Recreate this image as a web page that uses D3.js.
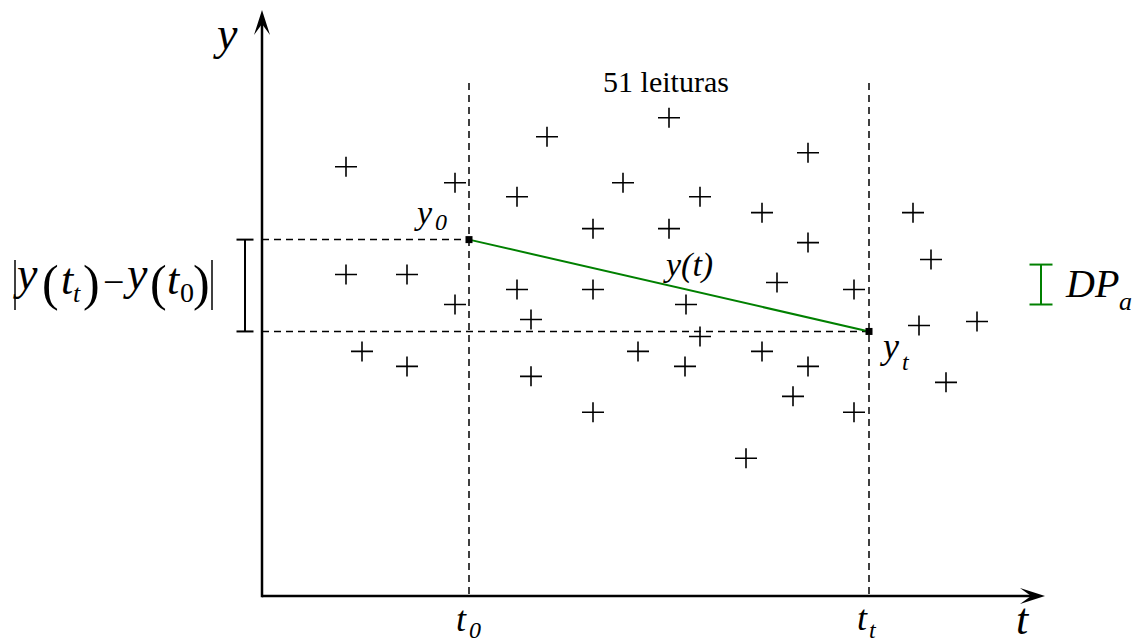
<!DOCTYPE html>
<html><head><meta charset="utf-8">
<script src="https://cdn.jsdelivr.net/npm/d3@7"></script>
<style>
body{margin:0;background:#fff}
svg text{font-family:"Liberation Serif","DejaVu Serif",serif}
</style></head><body>
<svg id="chart" width="1142" height="643"></svg>
<script>
// leituras (t, y) em unidades do grafico
var readingT = [84,193,285,407,546,255,361,438,331,407,500,546,651,669,84,145,193,255,331,424,515,592,269,438,657,715,100,145,269,376,423,500,546,684,531,331,592,484];
var readingY = [430,414,460,479,444,400,414,400,368,368,384,354,384,337,322,322,292,307,307,292,314,307,277,260,271,275,245,230,220,245,230,245,230,214,200,184,184,138];
var t0 = 207, tt = 607;
var y0 = 357, yt = 265;
var windowTop = 514;
var dpBar = [292, 332], dpT = 779;
var diffBarT = -17;
var windowLabel = "51 leituras";

var svg = d3.select("#chart");

var x = d3.scaleLinear().domain([0, 783]).range([262, 1045]),
    y = d3.scaleLinear().domain([0, 587]).range([596, 10]);

var dash = "7,5";

// eixos com setas
svg.append("line")
    .attr("x1", x(0)).attr("y1", y(0))
    .attr("x2", x(783) - 14).attr("y2", y(0))
    .attr("stroke", "#000").attr("stroke-width", 2.5);
svg.append("line")
    .attr("x1", x(0)).attr("y1", y(0) + 1.2)
    .attr("x2", x(0)).attr("y2", y(587) + 14)
    .attr("stroke", "#000").attr("stroke-width", 2.5);

var arrow = "M0,0L-25,-8L-14,0L-25,8Z";
svg.append("path").attr("d", arrow)
    .attr("transform", "translate(" + x(783) + "," + y(0) + ")");
svg.append("path").attr("d", arrow)
    .attr("transform", "translate(" + x(0) + "," + y(587) + ") rotate(-90)");

// janela t0..tt
[t0, tt].forEach(function(t) {
    svg.append("line")
        .attr("x1", x(t)).attr("x2", x(t))
        .attr("y1", y(windowTop)).attr("y2", y(0))
        .attr("stroke", "#000").attr("stroke-width", 1.5)
        .attr("stroke-dasharray", dash);
});
svg.append("line")
    .attr("x1", x(0)).attr("x2", x(t0))
    .attr("y1", y(y0)).attr("y2", y(y0))
    .attr("stroke", "#000").attr("stroke-width", 1.5)
    .attr("stroke-dasharray", dash);
svg.append("line")
    .attr("x1", x(0)).attr("x2", x(tt))
    .attr("y1", y(yt)).attr("y2", y(yt))
    .attr("stroke", "#000").attr("stroke-width", 1.5)
    .attr("stroke-dasharray", dash);

// leituras
svg.append("g").selectAll("path")
    .data(readingT.map(function(t, i) { return {t: t, v: readingY[i]}; }))
    .enter().append("path")
    .attr("d", "M-11,0H11M0,-10V10")
    .attr("transform", function(d) { return "translate(" + x(d.t) + "," + y(d.v) + ")"; })
    .attr("stroke", "#000").attr("stroke-width", 1.6);

// reta y(t)
svg.append("line")
    .attr("x1", x(t0)).attr("y1", y(y0))
    .attr("x2", x(tt)).attr("y2", y(yt))
    .attr("stroke", "#008000").attr("stroke-width", 2);
[[t0, y0], [tt, yt]].forEach(function(p) {
    svg.append("rect")
        .attr("x", x(p[0]) - 3.5).attr("y", y(p[1]) - 3.5)
        .attr("width", 7).attr("height", 7).attr("fill", "#000");
});

// barras
function ibar(tv, a, b, cap, col) {
    var g = svg.append("g").attr("stroke", col).attr("stroke-width", 2);
    g.append("line").attr("x1", x(tv)).attr("x2", x(tv)).attr("y1", y(a)).attr("y2", y(b));
    g.append("line").attr("x1", x(tv) - cap).attr("x2", x(tv) + cap).attr("y1", y(a)).attr("y2", y(a));
    g.append("line").attr("x1", x(tv) - cap).attr("x2", x(tv) + cap).attr("y1", y(b)).attr("y2", y(b));
}
ibar(diffBarT, y0, yt, 8.5, "#000");
ibar(dpT, dpBar[0], dpBar[1], 11.5, "#008000");

// textos
function txt(s, px, py, size, italic, anchor) {
    return svg.append("text").text(s)
        .attr("x", px).attr("y", py)
        .style("font-family", "\"Liberation Serif\", \"DejaVu Serif\", serif")
        .style("font-size", size + "px")
        .style("font-style", italic ? "italic" : "normal")
        .attr("text-anchor", anchor || "start")
        .attr("fill", "#000");
}
txt("y", 217, 49, 46, true);
txt("t", 1016, 634, 44, true);
txt("t", 456, 631, 36, true); txt("0", 469, 638, 24, true);
txt("t", 857, 630, 36, true); txt("t", 869, 638, 24, true);
txt("y", 417, 224, 34, true); txt("0", 435, 230, 24, true);
txt("y", 883, 358, 36, true); txt("t", 902, 370, 24, true);
txt("y(t)", 666, 276, 34, true);
txt(windowLabel, 666, 92, 30, false, "middle");
txt("DP", 1066, 297, 40, true); txt("a", 1119, 310, 26, true);

// |y(tt) - y(t0)|
svg.append("line").attr("x1", 15).attr("x2", 15).attr("y1", 260).attr("y2", 310)
    .attr("stroke", "#000").attr("stroke-width", 1.5);
svg.append("line").attr("x1", 212).attr("x2", 212).attr("y1", 260).attr("y2", 310)
    .attr("stroke", "#000").attr("stroke-width", 1.5);
txt("y", 17, 289, 46, true);
txt("(", 42, 300, 50, false);
txt("t", 61, 294, 44, true);
txt("t", 73, 302, 26, true);
txt(")", 83, 300, 50, false);
txt("\u2212", 103, 295, 38, false);
txt("y", 127, 289, 46, true);
txt("(", 150, 300, 50, false);
txt("t", 167, 294, 44, true);
txt("0", 180, 302, 28, false);
txt(")", 193, 300, 50, false);
</script>
</body></html>
